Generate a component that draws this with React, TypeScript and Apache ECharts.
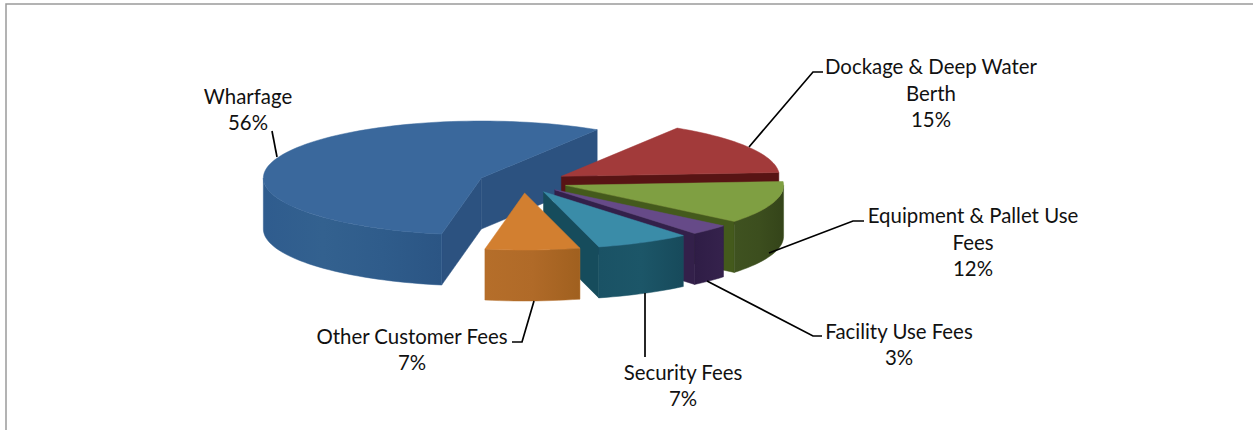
import React, { useEffect, useRef } from "react";
import * as echarts from "echarts";

const sliceNames = [
  "Wharfage",
  "Dockage & Deep Water\nBerth",
  "Equipment & Pallet Use\nFees",
  "Facility Use Fees",
  "Security Fees",
  "Other Customer Fees",
];
const sliceShares = [56, 15, 12, 3, 7, 7];
const firstSliceAngle = 190.5;

const topColors = ["#3a689c", "#a23a3a", "#7f9f42", "#664a88", "#3a8ca8", "#d27f30"];
const radialColors = ["#2c5280", "#581414", "#445a1c", "#33204a", "#164c5c", "#a5642a"];
const wallStops = [
  ["#2f5c8e", "#33618f", "#2f5c8b", "#2b5584"],
  ["#581414", "#581414"],
  ["#3f5220", "#3c4e1e", "#344419"],
  ["#2f1d46", "#35224c"],
  ["#1a5265", "#1c5668", "#174a5b"],
  ["#b56e2a", "#b06a28", "#a0601f"],
];
const labelCenters = [
  [248, 109],
  [931, 92.5],
  [973, 241.5],
  [899, 344],
  [683, 385],
  [412, 349],
];
const leaders = [
  [[272, 131], [277, 157]],
  [[749, 147], [813, 72], [823, 72]],
  [[769, 253], [853, 221], [864, 221]],
  [[707, 281], [813, 336], [822, 336]],
  [[645, 293], [645, 357]],
  [[534, 301], [522, 342], [512, 342]],
];

const CX = 523, CY = 182, RX = 218, RY = 57, EX = 44.7, EY = 11, DEPTH = 51;
const rad = (d: number) => (d * Math.PI) / 180;

function angles() {
  const total = sliceShares.reduce((a, b) => a + b, 0);
  let a = firstSliceAngle;
  return sliceShares.map((s) => {
    const start = a;
    a += (s / total) * 360;
    return [start, a];
  });
}

function arcPoints(cx: number, cy: number, a0: number, a1: number) {
  const n = Math.max(2, Math.ceil(Math.abs(a1 - a0) / 2));
  const pts: number[][] = [];
  for (let i = 0; i <= n; i++) {
    const t = rad(a0 + ((a1 - a0) * i) / n);
    pts.push([cx + RX * Math.sin(t), cy - RY * Math.cos(t)]);
  }
  return pts;
}

const down = (pts: number[][]) => pts.map(([x, y]) => [x, y + DEPTH]);

function renderSlice(params: any) {
  const i = params.dataIndex;
  const [a0, a1] = angles()[i];
  const mid = rad((a0 + a1) / 2);
  const cx = CX + EX * Math.sin(mid);
  const cy = CY - EY * Math.cos(mid);
  const arc = arcPoints(cx, cy, a0, a1);
  const apex = [cx, cy];
  const children: any[] = [];

  const radial = (a: number) => {
    const t = rad(a);
    const p = [cx + RX * Math.sin(t), cy - RY * Math.cos(t)];
    children.push({
      type: "polygon",
      shape: { points: [apex, p, [p[0], p[1] + DEPTH], [apex[0], apex[1] + DEPTH]] },
      style: { fill: radialColors[i], stroke: radialColors[i], lineWidth: 0.5 },
    });
  };
  if (Math.sin(rad(a0)) < 0) radial(a0);
  if (Math.sin(rad(a1)) > 0) radial(a1);

  for (const turn of [0, 360]) {
    const lo = Math.max(a0, 90 + turn);
    const hi = Math.min(a1, 270 + turn);
    if (hi <= lo) continue;
    const wall = arcPoints(cx, cy, lo, hi);
    const stops = wallStops[i];
    children.push({
      type: "polygon",
      shape: { points: [...wall, ...down(wall).reverse()] },
      style: {
        fill: {
          type: "linear",
          x: 0, y: 0, x2: 1, y2: 0,
          colorStops: stops.map((color, k) => ({ offset: k / (stops.length - 1), color })),
        },
        stroke: stops[0],
        lineWidth: 0.5,
      },
    });
  }

  children.push({
    type: "polygon",
    shape: { points: [apex, ...arc] },
    style: { fill: topColors[i], stroke: topColors[i], lineWidth: 0.5 },
  });

  children.push({
    type: "polyline",
    shape: { points: leaders[i] },
    style: { stroke: "#000", lineWidth: 1.7, fill: "none" },
  });
  children.push({
    type: "text",
    x: labelCenters[i][0],
    y: labelCenters[i][1],
    style: {
      text: `${sliceNames[i]}\n${sliceShares[i]}%`,
      fontFamily: "Lato",
      fontSize: 20.4,
      lineHeight: 26.5,
      fill: "#111",
      align: "center",
      verticalAlign: "middle",
    },
  });
  return { type: "group", children };
}

export default function App() {
  const ref = useRef<HTMLDivElement>(null);
  useEffect(() => {
    document.body.style.margin = "0";
    const chart = echarts.init(ref.current!, null, { renderer: "svg" });
    chart.setOption({
      animation: false,
      backgroundColor: "#fff",
      graphic: [
        {
          type: "polyline",
          z: 100,
          shape: { points: [[6, 430], [6, 4], [1253, 4]] },
          style: { stroke: "#9a9a9a", lineWidth: 1.5, fill: "none" },
        },
      ],
      series: [
        {
          type: "custom",
          coordinateSystem: "none",
          silent: true,
          renderItem: renderSlice,
          data: sliceShares.map((v, i) => ({ name: sliceNames[i], value: [v] })),
        },
      ],
    });
    return () => chart.dispose();
  }, []);
  return (
    <div
      ref={ref}
      style={{ position: "absolute", left: 0, top: 0, width: 1253, height: 430 }}
    />
  );
}
